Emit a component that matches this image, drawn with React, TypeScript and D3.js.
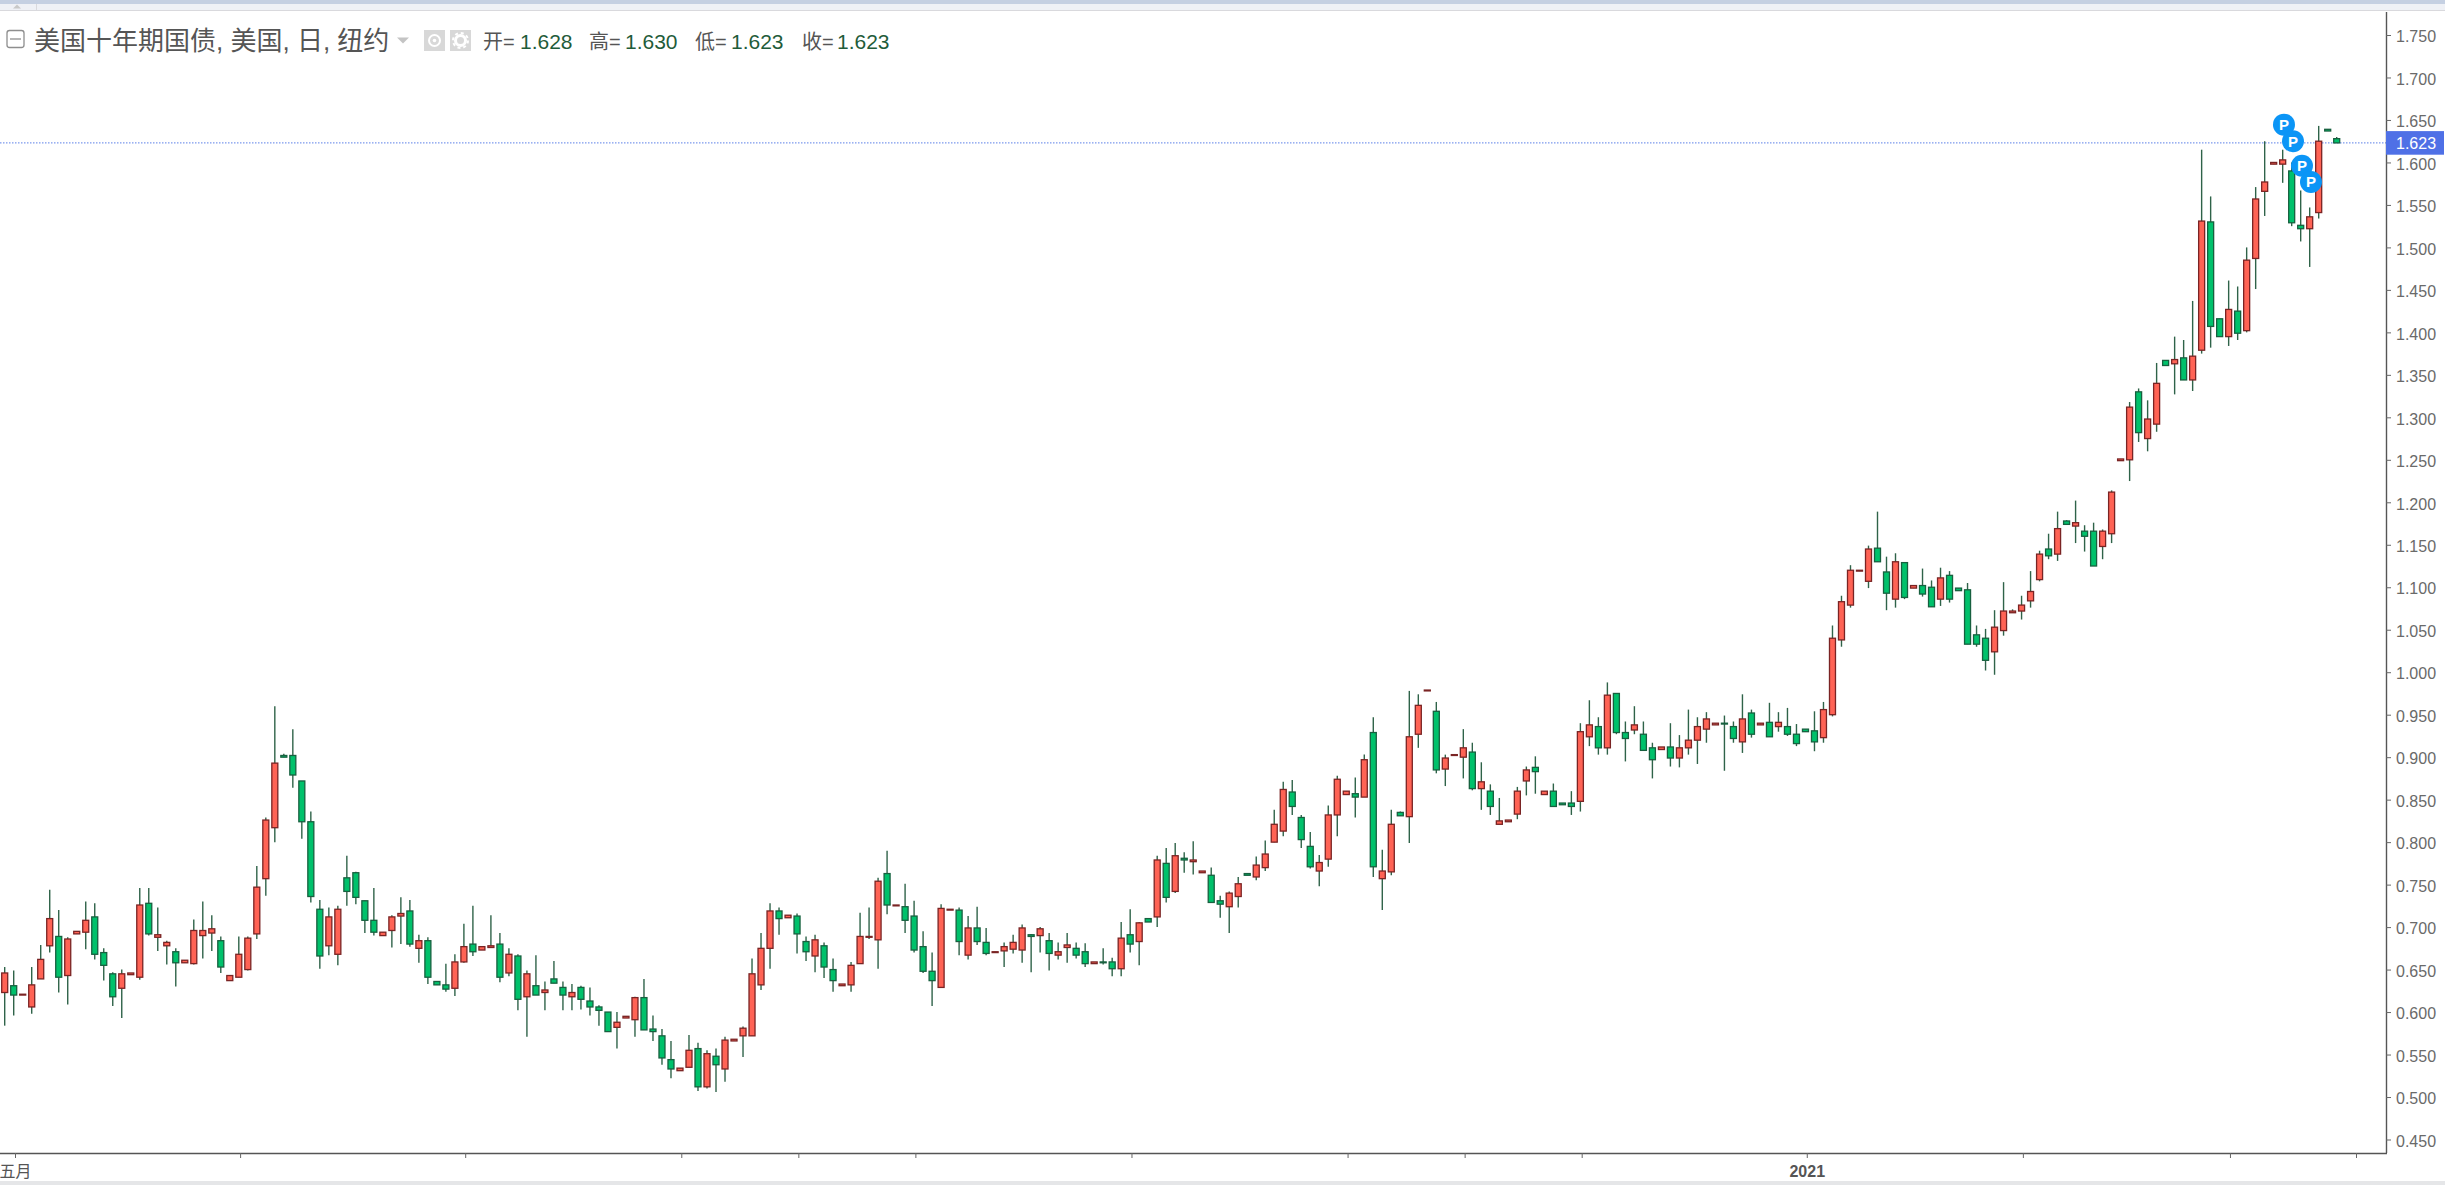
import React, { useEffect, useRef } from "react";
import * as d3 from "d3";

// daily candles, May 2020 -> Feb 2021
const opens = [
  .623,.631,.620,.606,.639,.678,.689,.643,.692,.694,
  .712,.670,.645,.628,.644,.641,.728,.688,.678,.671,
  .658,.657,.690,.693,.684,.637,.641,.650,.692,.757,
  .817,.902,.902,.872,.824,.721,.678,.668,.758,.764,
  .731,.708,.690,.696,.713,.719,.675,.684,.636,.632,
  .628,.659,.680,.673,.676,.680,.646,.666,.618,.631,
  .623,.639,.629,.618,.629,.613,.606,.600,.582,.593,
  .591,.617,.580,.572,.544,.531,.535,.557,.512,.548,
  .533,.566,.572,.572,.632,.675,.719,.711,.713,.683,
  .666,.678,.650,.631,.632,.657,.688,.685,.763,.725,
  .724,.713,.677,.648,.629,.720,.720,.667,.699,.682,
  .670,.672,.674,.673,.691,.690,.684,.667,.676,.675,
  .671,.657,.659,.659,.651,.691,.683,.710,.712,.775,
  .742,.781,.777,.764,.761,.731,.724,.736,.763,.759,
  .770,.800,.813,.859,.829,.795,.766,.780,.832,.856,
  .857,.853,.929,.757,.765,.835,.830,.927,.978,.954,
  .886,.902,.900,.906,.863,.860,.821,.824,.833,.872,
  .888,.856,.860,.846,.846,.848,.924,.936,.911,.975,
  .929,.932,.927,.911,.909,.912,.899,.911,.920,.933,
  .938,.940,.936,.918,.952,.938,.941,.936,.936,.927,
  .933,.931,.923,.950,1.038,1.079,1.119,1.107,1.146,1.118,
  1.086,1.129,1.099,1.102,1.100,1.086,1.114,1.099,1.097,1.044,
  1.040,1.024,1.049,1.070,1.072,1.084,1.109,1.145,1.139,1.178,
  1.172,1.166,1.166,1.148,1.163,1.249,1.250,1.330,1.275,1.292,
  1.367,1.363,1.370,1.344,1.379,1.530,1.416,1.395,1.425,1.402,
  1.487,1.566,1.598,1.598,1.590,1.526,1.522,1.541,1.639,1.628,
];
const highs = [
  .653,.649,.621,.653,.679,.744,.720,.688,.695,.730,
  .728,.675,.647,.650,.646,.746,.746,.723,.684,.675,
  .661,.709,.730,.714,.689,.643,.689,.689,.772,.829,
  .960,.904,.933,.872,.836,.732,.723,.725,.784,.765,
  .731,.746,.694,.714,.735,.732,.691,.688,.636,.657,
  .668,.704,.725,.677,.714,.693,.675,.668,.649,.667,
  .636,.660,.636,.633,.631,.629,.608,.600,.600,.595,
  .618,.639,.596,.580,.566,.534,.573,.564,.555,.557,
  .571,.568,.583,.663,.693,.728,.723,.714,.716,.689,
  .691,.682,.663,.633,.659,.717,.723,.758,.790,.726,
  .751,.731,.695,.670,.727,.721,.723,.713,.724,.699,
  .671,.682,.691,.703,.692,.700,.693,.682,.693,.682,
  .681,.659,.675,.664,.706,.721,.706,.710,.784,.793,
  .799,.788,.801,.766,.770,.737,.742,.759,.763,.783,
  .802,.838,.871,.873,.832,.812,.785,.843,.878,.860,
  .876,.903,.947,.791,.838,.836,.978,.974,.979,.965,
  .903,.903,.933,.917,.894,.868,.852,.826,.865,.889,
  .901,.860,.869,.846,.860,.940,.967,.947,.988,.975,
  .942,.960,.942,.917,.912,.940,.926,.956,.947,.953,
  .940,.949,.942,.974,.956,.940,.964,.953,.958,.939,
  .933,.954,.965,1.055,1.090,1.126,1.120,1.149,1.189,1.136,
  1.140,1.129,1.102,1.122,1.108,1.123,1.119,1.099,1.105,1.055,
  1.051,1.073,1.106,1.074,1.090,1.119,1.143,1.163,1.189,1.179,
  1.202,1.173,1.176,1.168,1.214,1.251,1.318,1.334,1.320,1.364,
  1.367,1.395,1.391,1.437,1.615,1.560,1.416,1.461,1.454,1.500,
  1.571,1.625,1.600,1.615,1.600,1.567,1.547,1.643,1.639,1.630,
];
const lows = [
  .584,.596,.620,.598,.639,.670,.623,.609,.692,.674,
  .662,.637,.607,.593,.644,.638,.690,.672,.656,.630,
  .658,.656,.663,.672,.646,.637,.641,.649,.686,.737,
  .800,.900,.864,.804,.729,.651,.667,.655,.725,.727,
  .693,.690,.690,.676,.680,.677,.658,.633,.632,.624,
  .619,.658,.666,.673,.676,.635,.642,.602,.571,.620,
  .602,.634,.602,.602,.603,.596,.584,.577,.557,.593,
  .571,.579,.566,.538,.522,.531,.535,.507,.510,.506,
  .518,.566,.547,.572,.626,.651,.691,.711,.669,.660,
  .647,.640,.624,.631,.624,.657,.686,.651,.715,.725,
  .693,.670,.646,.607,.629,.720,.667,.662,.679,.667,
  .670,.653,.669,.658,.647,.670,.649,.662,.658,.663,
  .653,.657,.656,.642,.642,.670,.655,.706,.700,.729,
  .740,.764,.762,.764,.729,.711,.693,.723,.761,.755,
  .766,.800,.807,.832,.793,.769,.748,.771,.807,.856,
  .829,.853,.759,.720,.761,.831,.799,.911,.978,.881,
  .866,.902,.875,.861,.838,.832,.821,.824,.827,.855,
  .857,.856,.842,.844,.832,.836,.913,.903,.903,.927,
  .895,.927,.908,.875,.909,.889,.888,.903,.892,.917,
  .938,.884,.917,.905,.923,.938,.924,.930,.925,.913,
  .930,.907,.917,.948,1.030,1.076,1.119,1.099,1.130,1.073,
  1.076,1.086,1.099,1.089,1.077,1.078,1.082,1.096,1.033,1.030,
  1.002,.997,1.043,1.070,1.062,1.076,1.107,1.133,1.131,1.174,
  1.152,1.142,1.125,1.133,1.152,1.249,1.225,1.271,1.260,1.283,
  1.361,1.327,1.344,1.331,1.375,1.382,1.395,1.384,1.391,1.400,
  1.451,1.537,1.598,1.576,1.525,1.507,1.477,1.534,1.637,1.623,
];
const closes = [
  .646,.620,.621,.632,.662,.710,.641,.686,.695,.708,
  .668,.655,.618,.645,.646,.726,.692,.691,.682,.658,
  .661,.696,.696,.698,.653,.643,.668,.687,.747,.826,
  .893,.900,.879,.824,.736,.666,.712,.721,.742,.735,
  .708,.694,.694,.712,.716,.680,.684,.641,.632,.627,
  .659,.677,.671,.677,.678,.641,.668,.615,.645,.620,
  .626,.634,.620,.623,.615,.606,.602,.577,.588,.595,
  .617,.579,.577,.546,.533,.534,.555,.512,.551,.538,
  .567,.568,.581,.645,.675,.719,.710,.714,.692,.671,
  .685,.653,.637,.633,.655,.689,.689,.754,.726,.726,
  .708,.673,.648,.637,.722,.721,.683,.699,.683,.669,
  .671,.677,.682,.699,.689,.698,.669,.671,.679,.667,
  .657,.659,.658,.651,.687,.680,.705,.706,.779,.735,
  .784,.779,.779,.766,.729,.727,.740,.751,.761,.773,
  .786,.821,.862,.842,.803,.771,.776,.832,.874,.860,
  .853,.897,.771,.766,.821,.831,.924,.961,.979,.885,
  .899,.903,.911,.863,.871,.842,.825,.826,.860,.885,
  .883,.860,.842,.844,.842,.930,.938,.911,.973,.929,
  .922,.938,.908,.897,.912,.899,.911,.920,.936,.945,
  .940,.939,.922,.945,.927,.940,.924,.941,.927,.916,
  .930,.918,.956,1.040,1.083,1.120,1.120,1.145,1.130,1.093,
  1.130,1.088,1.102,1.092,1.077,1.111,1.086,1.096,1.033,1.033,
  1.014,1.053,1.072,1.072,1.079,1.095,1.139,1.137,1.169,1.174,
  1.176,1.160,1.125,1.166,1.212,1.251,1.312,1.282,1.298,1.340,
  1.361,1.368,1.344,1.372,1.531,1.407,1.395,1.427,1.399,1.485,
  1.557,1.577,1.600,1.603,1.529,1.522,1.536,1.625,1.637,1.623,
];

const priceTicks = [
  0.45,0.5,0.55,0.6,0.65,0.7,0.75,0.8,0.85,0.9,0.95,1.0,1.05,1.1,1.15,
  1.2,1.25,1.3,1.35,1.4,1.45,1.5,1.55,1.6,1.65,1.7,1.75,
];
// candle index of each time axis tick, "" means an unlabelled tick
const timeTicks = [1,26,51,75,88,101,125,149,162,175,200,224,247,261];
const timeLabels = ["五月","","","","","","","","","","2021","","",""];

// "P" bubbles: candle index and price they float at
const markerIdx = [253,254,255,256];
const markerPrice = [1.6445,1.625,1.596,1.577];

const title = "美国十年期国债, 美国, 日, 纽约";
const ohlcLabels = ["开=","高=","低=","收="];
const ohlcValues = ["1.628","1.630","1.623","1.623"];
const ohlcX = [483,589,695,802];
const ohlcValueX = [520,625,731,837];
const lastPrice = 1.623;

const W = 2445, H = 1185;
const axisX = 2386, axisY = 1153;

const x = d3.scaleLinear().domain([0, 259]).range([4.7, 2336.7]);
const y = d3.scaleLinear().domain([1.75, 0.45]).range([35, 1139.5]);

const sans = "'Liberation Sans', Arial, sans-serif";
const cjk = "'Liberation Sans', 'Noto Sans CJK SC', sans-serif";

export default function App() {
    const ref = useRef<SVGSVGElement>(null);

    useEffect(() => {
        const svg = d3.select(ref.current);
        svg.selectAll("*").remove();

        // window chrome at the top and bottom
        svg.append("rect").attr("width", W).attr("height", 4).attr("fill", "#c5d0e2");
        svg.append("rect").attr("y", 4).attr("width", W).attr("height", 6).attr("fill", "#eff1f6");
        svg.append("rect").attr("y", 10).attr("width", W).attr("height", 1).attr("fill", "#d9d9dd");
        svg.append("path").attr("d", "M13 8.5L17 4.5L21 8.5Z").attr("fill", "#c8c8c8");
        svg.append("rect").attr("x", 36).attr("y", 4).attr("width", 1).attr("height", 6).attr("fill", "#d9d9dd");
        svg.append("rect").attr("y", 1181).attr("width", W).attr("height", 4).attr("fill", "#e5e6e8");

        // last price line
        svg.append("line")
            .attr("x1", 0).attr("x2", axisX)
            .attr("y1", y(lastPrice)).attr("y2", y(lastPrice))
            .attr("stroke", "#5b7fe8")
            .attr("stroke-width", 1)
            .attr("stroke-dasharray", "1.5 1.5");

        const idx = d3.range(opens.length);

        // wicks
        svg.append("g").selectAll("line").data(idx).join("line")
            .attr("x1", i => x(i)).attr("x2", i => x(i))
            .attr("y1", i => y(highs[i])).attr("y2", i => y(lows[i]))
            .attr("stroke", "#2f6349")
            .attr("stroke-width", 1.4);

        // bodies, red is up and green is down on this chart
        svg.append("g").selectAll("rect").data(idx).join("rect")
            .attr("x", i => x(i) - 3)
            .attr("width", 6)
            .attr("y", i => y(Math.max(opens[i], closes[i])))
            .attr("height", i => Math.abs(y(opens[i]) - y(closes[i])))
            .attr("fill", i => closes[i] > opens[i] ? "#ff6355" : "#00c16b")
            .attr("stroke", i => closes[i] > opens[i] ? "#7a2424" : "#17603f")
            .attr("stroke-width", 1.3);

        // markers
        const marks = svg.append("g").selectAll("g").data(markerIdx).join("g")
            .attr("transform", (d, k) => `translate(${x(d) + 1.3},${y(markerPrice[k])})`);
        marks.append("circle").attr("r", 11).attr("fill", "#0b95f6");
        marks.append("text")
            .attr("text-anchor", "middle")
            .attr("y", 5.5)
            .attr("fill", "#fff")
            .attr("font-family", sans)
            .attr("font-weight", "bold")
            .attr("font-size", 15)
            .text("P");

        // price axis
        const yAxis = svg.append("g")
            .attr("transform", `translate(${axisX},0)`)
            .call(d3.axisRight(y).tickValues(priceTicks).tickFormat(d3.format(".3f") as any).tickSize(5).tickPadding(5));
        yAxis.select(".domain").attr("d", `M0.5,12V${axisY}`).attr("stroke", "#555").attr("stroke-width", 1.4);
        yAxis.selectAll(".tick line").attr("stroke", "#666");
        yAxis.selectAll("text")
            .attr("dy", "0.42em")
            .attr("fill", "#6a6a6a")
            .attr("font-family", sans)
            .attr("font-size", 16);

        // time axis
        const tickX = d3.scaleLinear().domain(x.domain()).range(x.range().map(v => v + 1.3));
        const xAxis = svg.append("g")
            .attr("transform", `translate(0,${axisY})`)
            .call(d3.axisBottom(tickX).tickValues(timeTicks)
                .tickFormat((d, k) => timeLabels[k]).tickSize(5).tickPadding(8));
        xAxis.select(".domain").attr("d", `M0,0.5H${axisX + 1}`).attr("stroke", "#555").attr("stroke-width", 1.4);
        xAxis.selectAll(".tick line").attr("stroke", "#666");
        xAxis.selectAll("text")
            .attr("fill", "#555")
            .attr("font-family", cjk)
            .attr("font-size", 16)
            .attr("font-weight", (d, k) => timeLabels[k] === "2021" ? "bold" : "normal");

        // price tag
        const tag = svg.append("g").attr("transform", `translate(${axisX},${y(lastPrice)})`);
        tag.append("rect").attr("y", -11.8).attr("width", W - axisX - 1).attr("height", 23.6).attr("fill", "#4f70e6");
        tag.append("text")
            .attr("x", 10).attr("y", 6)
            .attr("fill", "#fff")
            .attr("font-family", sans)
            .attr("font-size", 16)
            .text(d3.format(".3f")(lastPrice));

        // header
        svg.append("rect")
            .attr("x", 7).attr("y", 30.5).attr("width", 17).attr("height", 17).attr("rx", 2.5)
            .attr("fill", "#fff").attr("stroke", "#8e8e8e").attr("stroke-width", 1.3);
        svg.append("line").attr("x1", 10).attr("x2", 21).attr("y1", 39).attr("y2", 39)
            .attr("stroke", "#8e8e8e").attr("stroke-width", 1.3);
        svg.append("text")
            .attr("x", 34).attr("y", 50)
            .attr("fill", "#555")
            .attr("font-family", cjk)
            .attr("font-size", 26)
            .text(title);
        svg.append("path").attr("d", "M397 37.5H409L403 43.5Z").attr("fill", "#c4c4c4");

        // eye and gear buttons
        svg.append("rect").attr("x", 424).attr("y", 30).attr("width", 21).attr("height", 21).attr("fill", "#d8d8d8");
        svg.append("circle").attr("cx", 434.5).attr("cy", 40.5).attr("r", 5.5).attr("fill", "none").attr("stroke", "#fff").attr("stroke-width", 2);
        svg.append("circle").attr("cx", 434.5).attr("cy", 40.5).attr("r", 1.8).attr("fill", "#fff");
        svg.append("rect").attr("x", 450).attr("y", 30).attr("width", 21).attr("height", 21).attr("fill", "#d8d8d8");
        svg.append("circle").attr("cx", 460.5).attr("cy", 40.5).attr("r", 5).attr("fill", "none").attr("stroke", "#fff").attr("stroke-width", 3);
        svg.append("circle").attr("cx", 460.5).attr("cy", 40.5).attr("r", 7.5).attr("fill", "none").attr("stroke", "#fff").attr("stroke-width", 2).attr("stroke-dasharray", "3 2.9");

        const ohlc = svg.append("g");
        ohlc.selectAll("text.lab").data(ohlcLabels).join("text")
            .attr("class", "lab")
            .attr("x", (d, k) => ohlcX[k])
            .attr("y", 49)
            .attr("font-size", 20)
            .attr("font-family", cjk)
            .attr("fill", "#555")
            .text(d => d);
        ohlc.selectAll("text.val").data(ohlcValues).join("text")
            .attr("class", "val")
            .attr("x", (d, k) => ohlcValueX[k])
            .attr("y", 49)
            .attr("font-size", 21)
            .attr("font-family", sans)
            .attr("fill", "#1f5c3a")
            .text(d => d);
    }, []);

    return (
        <svg ref={ref} width={W} height={H}
             style={{ position: "absolute", left: 0, top: 0, background: "#fff" }} />
    );
}
